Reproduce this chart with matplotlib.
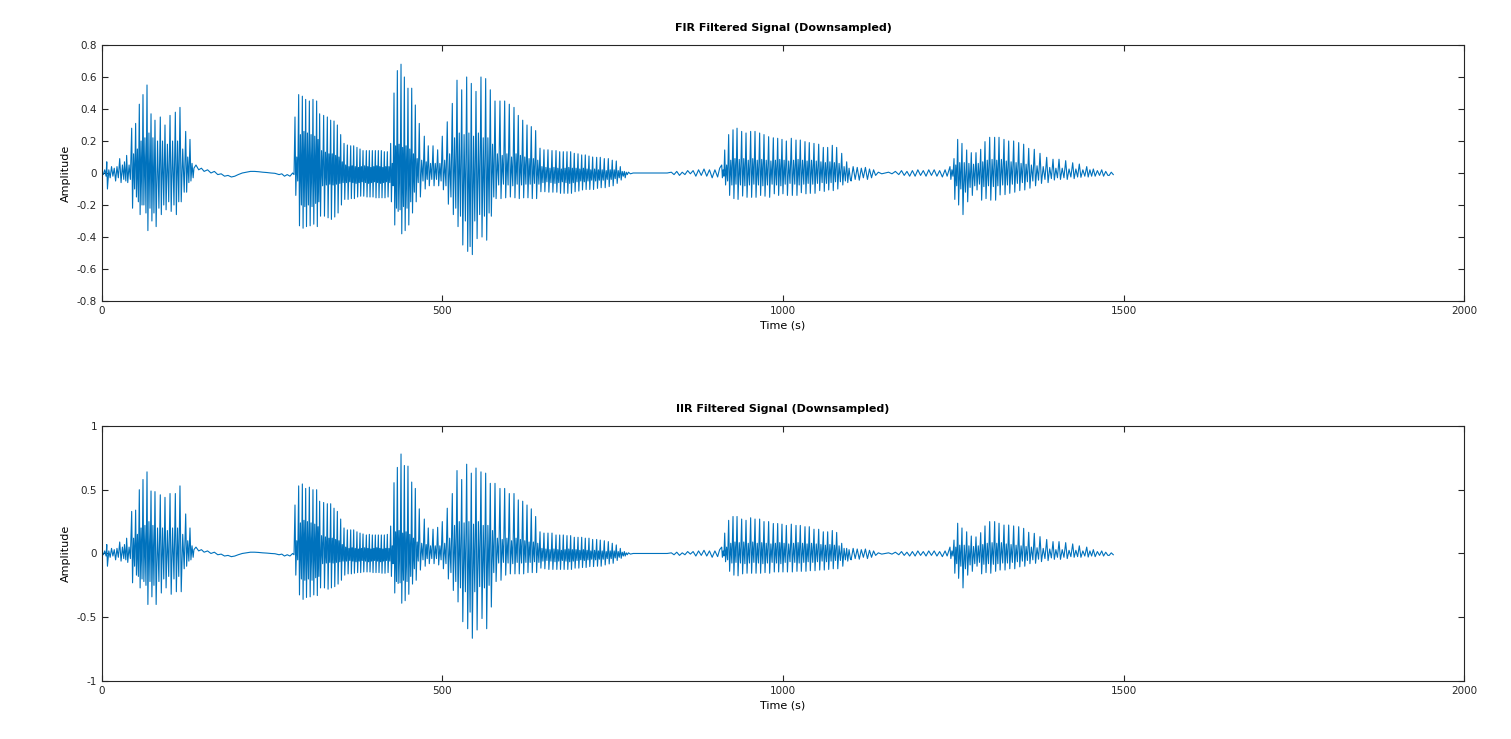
import numpy as np
import matplotlib
matplotlib.use("Agg")
import matplotlib.pyplot as plt

plt.rcParams['axes.unicode_minus'] = False
plt.rcParams['font.family'] = ['DejaVu Sans']

# ---- voiced segment A ----
a_t = [36.2, 43.6, 49.4, 54.8, 60.2, 66.1, 72.0, 77.8, 85.6, 92.5, 99.9, 107.7, 114.5, 122.9, 129.2]
a_fir_pk = [0.11, 0.28, 0.31, 0.43, 0.49, 0.55, 0.37, 0.33, 0.35, 0.30, 0.36, 0.38, 0.41, 0.26, 0.21]
a_fir_tr = [-0.06, -0.22, -0.15, -0.26, -0.20, -0.36, -0.30, -0.335, -0.26, -0.23, -0.24, -0.26, -0.18, -0.12, -0.05]
a_rip_hi = [0.05, 0.12, 0.15, 0.20, 0.22, 0.25, 0.22, 0.20, 0.20, 0.18, 0.20, 0.20, 0.15, 0.10, 0.06]
a_rip_lo = [-0.04, -0.10, -0.18, -0.20, -0.25, -0.22, -0.25, -0.22, -0.20, -0.18, -0.20, -0.18, -0.12, -0.06, -0.03]
a_iir_pk = [0.12, 0.33, 0.34, 0.50, 0.58, 0.64, 0.49, 0.485, 0.46, 0.44, 0.47, 0.47, 0.53, 0.31, 0.20]
a_iir_tr = [-0.07, -0.23, -0.17, -0.27, -0.22, -0.40, -0.34, -0.40, -0.31, -0.27, -0.32, -0.30, -0.30, -0.10, -0.05]

# ---- voiced segment B, first part ----
b1_t = [283.4, 288.8, 294.2, 299.1, 304.5, 309.8, 315.2,
        319.6, 325.5, 330.9, 335.8, 340.7, 345.6, 350.5,
        355.4, 360.3, 365.2, 369.6, 374.4, 378.9, 383.3,
        388.2, 392.6, 397.0, 401.4, 405.8, 410.2, 414.6,
        419.0, 423.9, 428.8, 433.7, 439.1, 444.0, 449.3,
        454.8, 460.1, 465.9, 473.3, 479.1, 486.1, 492.9,
        499.7, 507.0]
b1_fir_pk = [0.35, 0.49, 0.48, 0.46, 0.45, 0.46, 0.45,
             0.37, 0.36, 0.35, 0.33, 0.325, 0.30, 0.24,
             0.185, 0.175, 0.17, 0.17, 0.16, 0.15, 0.14,
             0.14, 0.14, 0.14, 0.14, 0.14, 0.14, 0.133,
             0.133, 0.185, 0.50, 0.64, 0.68, 0.60, 0.53,
             0.53, 0.425, 0.31, 0.23, 0.17, 0.17, 0.145,
             0.23, 0.32]
b1_fir_tr = [-0.14, -0.33, -0.345, -0.335, -0.33, -0.32, -0.335,
             -0.27, -0.27, -0.28, -0.29, -0.275, -0.25, -0.20,
             -0.165, -0.165, -0.16, -0.16, -0.15, -0.145, -0.145,
             -0.15, -0.15, -0.15, -0.155, -0.155, -0.155, -0.155,
             -0.15, -0.18, -0.325, -0.24, -0.38, -0.36, -0.325,
             -0.25, -0.18, -0.15, -0.10, -0.08, -0.08, -0.08,
             -0.105, -0.195]
b1_rip_hi = [0.10, 0.24, 0.26, 0.25, 0.24, 0.23, 0.21,
             0.14, 0.13, 0.12, 0.12, 0.11, 0.10, 0.07,
             0.05, 0.04, 0.045, 0.04, 0.035, 0.04, 0.045,
             0.04, 0.035, 0.04, 0.045, 0.04, 0.035, 0.04,
             0.04, 0.06, 0.17, 0.18, 0.16, 0.17, 0.15,
             0.12, 0.09, 0.08, 0.07, 0.06, 0.06, 0.06,
             0.08, 0.12]
b1_rip_lo = [-0.05, -0.20, -0.21, -0.20, -0.21, -0.19, -0.18,
             -0.08, -0.075, -0.07, -0.075, -0.07, -0.065, -0.06,
             -0.06, -0.055, -0.06, -0.065, -0.06, -0.055, -0.06,
             -0.065, -0.06, -0.055, -0.06, -0.065, -0.06, -0.055,
             -0.06, -0.08, -0.22, -0.23, -0.21, -0.22, -0.18,
             -0.12, -0.06, -0.05, -0.04, -0.04, -0.04, -0.05,
             -0.08, -0.15]
b1_iir_pk = [0.38, 0.53, 0.545, 0.51, 0.52, 0.50, 0.50,
             0.41, 0.40, 0.39, 0.39, 0.355, 0.33, 0.27,
             0.20, 0.185, 0.185, 0.185, 0.17, 0.16, 0.153,
             0.145, 0.15, 0.145, 0.145, 0.145, 0.145, 0.145,
             0.15, 0.215, 0.555, 0.675, 0.78, 0.69, 0.685,
             0.56, 0.51, 0.35, 0.27, 0.20, 0.19, 0.205,
             0.25, 0.355]
b1_iir_tr = [-0.17, -0.325, -0.36, -0.345, -0.34, -0.325, -0.33,
             -0.27, -0.27, -0.28, -0.27, -0.26, -0.24, -0.21,
             -0.17, -0.16, -0.16, -0.155, -0.15, -0.15, -0.145,
             -0.145, -0.145, -0.15, -0.15, -0.15, -0.155, -0.155,
             -0.15, -0.18, -0.31, -0.235, -0.39, -0.37, -0.32,
             -0.24, -0.21, -0.13, -0.10, -0.08, -0.08, -0.09,
             -0.12, -0.20]

# ---- voiced segment B, second part ----
b2_t = [514.4, 521.3, 528.2, 535.5, 542.3, 549.2, 556.5,
        563.4, 570.2, 577.1, 584.4, 591.3, 598.1, 605.0,
        611.3, 617.8, 624.1, 630.4, 636.8, 643.2, 649.0,
        654.9, 660.8, 666.7, 672.1, 677.4, 682.8, 688.2,
        693.5, 699.0, 704.4, 709.7, 715.1, 720.5, 726.4,
        731.7, 737.6, 743.5, 749.3, 755.2, 761.1, 767.0]
b2_fir_pk = [0.435, 0.58, 0.52, 0.60, 0.56, 0.51, 0.60,
             0.59, 0.52, 0.45, 0.45, 0.45, 0.43, 0.41,
             0.36, 0.33, 0.30, 0.29, 0.265, 0.155, 0.145,
             0.145, 0.14, 0.14, 0.133, 0.133, 0.133, 0.133,
             0.123, 0.12, 0.113, 0.113, 0.106, 0.10, 0.098,
             0.098, 0.09, 0.09, 0.08, 0.075, 0.04, 0.01]
b2_fir_tr = [-0.26, -0.335, -0.45, -0.49, -0.51, -0.41, -0.40,
             -0.42, -0.27, -0.16, -0.16, -0.155, -0.15, -0.155,
             -0.16, -0.155, -0.155, -0.16, -0.16, -0.117, -0.117,
             -0.12, -0.12, -0.12, -0.127, -0.127, -0.127, -0.127,
             -0.117, -0.113, -0.106, -0.103, -0.103, -0.103, -0.096,
             -0.092, -0.092, -0.085, -0.08, -0.065, -0.044, -0.03]
b2_rip_hi = [0.22, 0.25, 0.24, 0.25, 0.23, 0.25, 0.22,
             0.22, 0.18, 0.12, 0.11, 0.12, 0.10, 0.12,
             0.11, 0.10, 0.09, 0.09, 0.08, 0.04, 0.035,
             0.03, 0.035, 0.03, 0.025, 0.03, 0.035, 0.03,
             0.03, 0.025, 0.03, 0.025, 0.02, 0.025, 0.02,
             0.02, 0.015, 0.02, 0.02, 0.015, 0.01, 0.005]
b2_rip_lo = [-0.22, -0.27, -0.30, -0.46, -0.30, -0.26, -0.27,
             -0.25, -0.15, -0.075, -0.07, -0.075, -0.08, -0.07,
             -0.075, -0.07, -0.07, -0.065, -0.07, -0.06, -0.055,
             -0.06, -0.065, -0.06, -0.055, -0.06, -0.065, -0.06,
             -0.055, -0.05, -0.055, -0.05, -0.045, -0.05, -0.045,
             -0.045, -0.04, -0.04, -0.035, -0.03, -0.02, -0.01]
b2_iir_pk = [0.47, 0.65, 0.58, 0.70, 0.63, 0.67, 0.64,
             0.63, 0.55, 0.55, 0.51, 0.51, 0.47, 0.47,
             0.42, 0.41, 0.38, 0.35, 0.29, 0.17, 0.16,
             0.16, 0.16, 0.145, 0.145, 0.145, 0.14, 0.14,
             0.127, 0.127, 0.127, 0.12, 0.12, 0.11, 0.11,
             0.105, 0.10, 0.093, 0.08, 0.067, 0.04, 0.015]
b2_iir_tr = [-0.29, -0.38, -0.535, -0.59, -0.665, -0.60, -0.51,
             -0.59, -0.42, -0.22, -0.21, -0.17, -0.16, -0.16,
             -0.16, -0.16, -0.15, -0.15, -0.15, -0.115, -0.12,
             -0.125, -0.125, -0.125, -0.125, -0.125, -0.125, -0.125,
             -0.115, -0.115, -0.11, -0.11, -0.103, -0.103, -0.10,
             -0.10, -0.09, -0.082, -0.077, -0.055, -0.038, -0.02]

# ---- voiced segment C ----
c_t = [910.0, 914.4, 920.2, 926.6, 932.5, 939.3, 945.7,
       952.5, 958.9, 965.7, 972.1, 978.9, 985.8, 992.2,
       998.5, 1004.9, 1012.2, 1019.1, 1025.4, 1032.3, 1038.6,
       1045.5, 1052.4, 1059.2, 1065.6, 1072.4, 1078.8, 1086.2,
       1093.5]
c_fir_pk = [0.05, 0.144, 0.24, 0.27, 0.28, 0.26, 0.25,
            0.26, 0.26, 0.25, 0.24, 0.227, 0.22, 0.217,
            0.21, 0.20, 0.217, 0.206, 0.206, 0.196, 0.19,
            0.185, 0.18, 0.16, 0.16, 0.173, 0.16, 0.123,
            0.07]
c_fir_tr = [-0.03, -0.075, -0.14, -0.16, -0.165, -0.144, -0.152,
            -0.152, -0.152, -0.14, -0.145, -0.152, -0.13, -0.14,
            -0.13, -0.14, -0.14, -0.14, -0.123, -0.13, -0.127,
            -0.127, -0.11, -0.115, -0.106, -0.11, -0.10, -0.075,
            -0.06]
c_rip_hi = [0.02, 0.05, 0.08, 0.09, 0.085, 0.09, 0.08,
            0.09, 0.08, 0.085, 0.08, 0.075, 0.08, 0.085,
            0.08, 0.075, 0.08, 0.085, 0.08, 0.075, 0.08,
            0.075, 0.07, 0.065, 0.07, 0.065, 0.06, 0.04,
            0.03]
c_rip_lo = [-0.02, -0.05, -0.075, -0.07, -0.075, -0.08, -0.075,
            -0.07, -0.075, -0.08, -0.075, -0.07, -0.075, -0.08,
            -0.07, -0.065, -0.07, -0.075, -0.07, -0.065, -0.07,
            -0.065, -0.06, -0.065, -0.06, -0.055, -0.055, -0.05,
            -0.04]
c_iir_pk = [0.05, 0.16, 0.26, 0.29, 0.29, 0.27, 0.26,
            0.28, 0.27, 0.27, 0.25, 0.25, 0.235, 0.235,
            0.23, 0.22, 0.23, 0.22, 0.22, 0.21, 0.21,
            0.19, 0.19, 0.17, 0.17, 0.18, 0.165, 0.08,
            0.04]
c_iir_tr = [-0.03, -0.065, -0.14, -0.17, -0.175, -0.16, -0.155,
            -0.155, -0.155, -0.155, -0.15, -0.155, -0.145, -0.145,
            -0.145, -0.145, -0.145, -0.14, -0.14, -0.14, -0.135,
            -0.135, -0.13, -0.13, -0.125, -0.12, -0.12, -0.10,
            -0.06]

# ---- voiced segment D ----
d_t = [1245.2, 1251.1, 1256.5, 1262.8, 1269.7, 1276.5, 1283.4,
       1290.3, 1296.6, 1303.5, 1310.8, 1317.2, 1324.5, 1331.4,
       1338.7, 1346.1, 1353.4, 1360.8, 1369.0, 1377.4, 1387.2,
       1396.5, 1405.3, 1415.1, 1425.4, 1435.1, 1446.0, 1455.7,
       1468.0]
d_fir_pk = [0.04, 0.09, 0.21, 0.185, 0.144, 0.127, 0.127,
            0.148, 0.196, 0.223, 0.223, 0.223, 0.21, 0.20,
            0.20, 0.19, 0.18, 0.154, 0.148, 0.123, 0.098,
            0.086, 0.086, 0.077, 0.064, 0.056, 0.04, 0.025,
            0.02]
d_fir_tr = [-0.04, -0.165, -0.20, -0.26, -0.18, -0.14, -0.106,
            -0.17, -0.16, -0.17, -0.17, -0.137, -0.135, -0.127,
            -0.12, -0.11, -0.106, -0.095, -0.08, -0.065, -0.06,
            -0.044, -0.04, -0.04, -0.035, -0.027, -0.025, -0.02,
            -0.02]
d_rip_hi = [0.02, 0.05, 0.065, 0.065, 0.06, 0.055, 0.06,
            0.07, 0.08, 0.085, 0.08, 0.085, 0.075, 0.07,
            0.065, 0.06, 0.055, 0.05, 0.045, 0.04, 0.035,
            0.03, 0.03, 0.025, 0.025, 0.02, 0.02, 0.015,
            0.01]
d_rip_lo = [-0.02, -0.08, -0.10, -0.12, -0.09, -0.08, -0.07,
            -0.085, -0.08, -0.085, -0.08, -0.075, -0.075, -0.07,
            -0.065, -0.06, -0.055, -0.05, -0.045, -0.04, -0.035,
            -0.03, -0.03, -0.025, -0.025, -0.02, -0.02, -0.015,
            -0.015]
d_iir_pk = [0.05, 0.105, 0.237, 0.20, 0.17, 0.137, 0.13,
            0.163, 0.216, 0.25, 0.25, 0.237, 0.223, 0.223,
            0.216, 0.21, 0.197, 0.166, 0.158, 0.132, 0.11,
            0.093, 0.093, 0.085, 0.075, 0.06, 0.05, 0.03,
            0.02]
d_iir_tr = [-0.04, -0.155, -0.195, -0.27, -0.17, -0.14, -0.10,
            -0.16, -0.15, -0.155, -0.14, -0.13, -0.13, -0.12,
            -0.12, -0.105, -0.10, -0.08, -0.077, -0.064, -0.056,
            -0.046, -0.046, -0.04, -0.03, -0.03, -0.028, -0.025,
            -0.02]

# ---- quiet stretches between the voiced parts ----
quiet_t = [0, 2, 4, 6, 7, 8, 10, 12, 14, 16, 18, 20, 22, 24, 26, 28, 30, 32, 33, 35,
           135, 138, 142, 146, 150, 155, 160, 165, 170, 175, 180, 185, 190, 195, 200,
           206, 212, 218, 224, 230, 236, 242, 248, 254, 260, 264, 268, 272, 276, 280, 282,
           773, 776, 780, 790, 800, 810, 820, 830, 836, 840, 844, 848, 852, 856, 860,
           864, 868, 872, 876, 880, 884, 888, 892, 896, 900, 904, 907,
           1100, 1103, 1106, 1109, 1112, 1115, 1118, 1121, 1124, 1127, 1130, 1133,
           1136, 1140, 1145, 1150, 1155, 1160, 1165, 1170, 1174, 1178, 1182, 1186,
           1190, 1194, 1198, 1202, 1206, 1210, 1214, 1218, 1222, 1226, 1230, 1234,
           1238, 1241,
           1479, 1482, 1485]
quiet_v = [0.0, -0.01, 0.02, -0.02, 0.07, -0.1, 0.02, -0.03, 0.04, -0.02, 0.03, -0.05,
           0.04, -0.03, 0.09, -0.06, 0.05, -0.04, 0.07, -0.05,
           0.03, 0.05, 0.02, 0.03, 0.01, 0.02, 0.0, 0.01, -0.01, -0.005, -0.02, -0.015,
           -0.025, -0.02, -0.01, 0.0, 0.005, 0.01, 0.01, 0.008, 0.005, 0.003, 0.0,
           -0.002, -0.01, -0.005, -0.02, -0.01, -0.02, 0.0, -0.01,
           0.005, -0.005, 0.0, 0.0, 0.0, 0.0, 0.0, 0.0, 0.005, -0.01, 0.01, -0.015, 0.005,
           -0.01, 0.015, -0.005, 0.015, -0.02, 0.02, -0.015, 0.025, -0.02, 0.02, -0.03,
           0.02, -0.025, 0.03,
           -0.05, 0.04, -0.04, 0.035, -0.045, 0.03, -0.03, 0.035, -0.04, 0.025, -0.03,
           0.02, -0.015, 0.005, -0.005, 0.0, 0.005, -0.005, 0.01, -0.01, 0.015, -0.015,
           0.01, -0.02, 0.015, -0.02, 0.02, -0.015, 0.015, -0.02, 0.02, -0.015, 0.02,
           -0.02, 0.015, -0.025, 0.02, -0.02,
           -0.015, 0.005, -0.01]


def pulses(times, peaks, troughs, rip_hi, rip_lo):
    xs, ys = [], []
    for i, t in enumerate(times):
        if i + 1 < len(times):
            p = times[i + 1] - t
        else:
            p = t - times[i - 1]
        xs += [t, t + 0.22 * p, t + 0.48 * p, t + 0.74 * p]
        ys += [peaks[i], troughs[i], rip_hi[i], rip_lo[i]]
    return xs, ys


def signal(parts):
    xs, ys = list(quiet_t), list(quiet_v)
    for part in parts:
        px, py = pulses(*part)
        xs += px
        ys += py
    xs = np.array(xs)
    ys = np.array(ys)
    order = np.argsort(xs)
    return xs[order], ys[order]


fir_x, fir_y = signal([
    (a_t, a_fir_pk, a_fir_tr, a_rip_hi, a_rip_lo),
    (b1_t, b1_fir_pk, b1_fir_tr, b1_rip_hi, b1_rip_lo),
    (b2_t, b2_fir_pk, b2_fir_tr, b2_rip_hi, b2_rip_lo),
    (c_t, c_fir_pk, c_fir_tr, c_rip_hi, c_rip_lo),
    (d_t, d_fir_pk, d_fir_tr, d_rip_hi, d_rip_lo),
])
iir_x, iir_y = signal([
    (a_t, a_iir_pk, a_iir_tr, a_rip_hi, a_rip_lo),
    (b1_t, b1_iir_pk, b1_iir_tr, b1_rip_hi, b1_rip_lo),
    (b2_t, b2_iir_pk, b2_iir_tr, b2_rip_hi, b2_rip_lo),
    (c_t, c_iir_pk, c_iir_tr, c_rip_hi, c_rip_lo),
    (d_t, d_iir_pk, d_iir_tr, d_rip_hi, d_rip_lo),
])

fig = plt.figure(figsize=(15.11, 7.39), dpi=100)
ax1 = fig.add_axes([0.0675, 0.5927, 0.9014, 0.3464])
ax2 = fig.add_axes([0.0675, 0.0785, 0.9014, 0.3451])

line_color = '#0072BD'

for ax, x, y, title, lim, ticks in [
        (ax1, fir_x, fir_y, 'FIR Filtered Signal (Downsampled)', (-0.8, 0.8),
         [-0.8, -0.6, -0.4, -0.2, 0, 0.2, 0.4, 0.6, 0.8]),
        (ax2, iir_x, iir_y, 'IIR Filtered Signal (Downsampled)', (-1, 1),
         [-1, -0.5, 0, 0.5, 1])]:
    ax.plot(x, y, color=line_color, linewidth=0.8)
    ax.set_xlim(0, 2000)
    ax.set_ylim(*lim)
    ax.set_xticks([0, 500, 1000, 1500, 2000])
    ax.set_yticks(ticks)
    ax.set_yticklabels(['%g' % v for v in ticks])
    ax.tick_params(direction='in', top=True, right=True, length=4, width=0.8,
                   labelsize=7.5, colors='#262626')
    for s in ax.spines.values():
        s.set_linewidth(0.8)
        s.set_color('#262626')
    ax.set_title(title, fontsize=8, fontweight='bold', pad=10)
    ax.set_xlabel('Time (s)', fontsize=8, labelpad=3)
    ax.set_ylabel('Amplitude', fontsize=8, labelpad=4)

fig.savefig('out.png', dpi=100)
